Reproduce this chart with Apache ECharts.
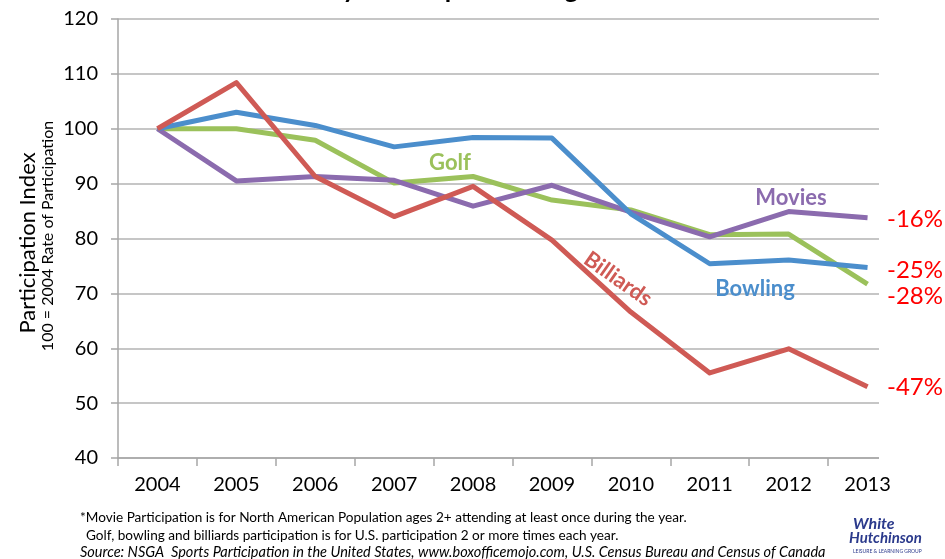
<!DOCTYPE html>
<html><head><meta charset="utf-8">
<script src="https://cdn.jsdelivr.net/npm/echarts@6/dist/echarts.min.js"></script>
<style>html,body{margin:0;padding:0;background:#fff}#c{width:945px;height:559px}</style>
</head><body><div id="c"></div>
<script>
const years = ['2004','2005','2006','2007','2008','2009','2010','2011','2012','2013'];
const bowling = [100, 103.0, 100.6, 96.7, 98.4, 98.3, 84.5, 75.4, 76.1, 74.7];
const golf = [100, 100, 97.9, 90.1, 91.3, 87.0, 85.2, 80.7, 80.8, 71.7];
const movies = [100, 90.5, 91.3, 90.6, 85.9, 89.7, 84.8, 80.3, 84.9, 83.8];
const billiards = [100, 108.4, 91.3, 84.0, 89.5, 79.7, 66.6, 55.5, 59.9, 53.0];
const changeLabels = ['-16%', '-25%', '-28%', '-47%'];
const yTicks = [40, 120, 10];

const FONT = 'Lato, "Open Sans", sans-serif';
const chart = echarts.init(document.getElementById('c'), null, {renderer: 'canvas'});

function line(name, data, color) {
  return {name, type: 'line', data, symbol: 'none', smooth: false,
    lineStyle: {color, width: 5, join: 'round'}, itemStyle: {color}, z: 3};
}

chart.setOption({
  animation: false,
  backgroundColor: '#fff',
  grid: {left: 118, right: 38, top: 19, bottom: 101},
  xAxis: {
    type: 'category', data: years, boundaryGap: true,
    axisLine: {lineStyle: {color: '#a6a6a6', width: 1.5}},
    axisTick: {show: true, length: 8, lineStyle: {color: '#a6a6a6', width: 1.5}},
    axisLabel: {color: '#000', fontSize: 20, fontFamily: FONT, margin: 17}
  },
  yAxis: {
    type: 'value', min: yTicks[0], max: yTicks[1], interval: yTicks[2],
    axisLine: {show: true, lineStyle: {color: '#a6a6a6', width: 1.5}},
    axisTick: {show: true, inside: false, length: 7, lineStyle: {color: '#a6a6a6', width: 1.5}},
    splitLine: {lineStyle: {color: '#b3b3b3', width: 1.5}},
    axisLabel: {color: '#000', fontSize: 20, fontFamily: FONT, margin: 20}
  },
  series: [
    line('Golf', golf, '#9bc15b'),
    line('Movies', movies, '#8b6bae'),
    line('Bowling', bowling, '#4b8ecc'),
    line('Billiards', billiards, '#cf5a55')
  ],
  graphic: [
    {type: 'rect', shape: {x: 879, y: 10, width: 66, height: 460}, style: {fill: '#fff'}, z: 10},
    {type: 'text', x: 484, y: -23, z: 20, style: {text: 'by U.S. Population Ages 7+', font: 'bold 26px ' + FONT, fill: '#000', textAlign: 'center', textVerticalAlign: 'top'}},
    {type: 'text', x: 28, y: 243, rotation: Math.PI/2, z: 20, style: {text: 'Participation Index', font: '22px ' + FONT, fill: '#000', textAlign: 'center', textVerticalAlign: 'middle'}},
    {type: 'text', x: 48, y: 236, rotation: Math.PI/2, z: 20, style: {text: '100 = 2004 Rate of Participation', font: '16px ' + FONT, fill: '#000', textAlign: 'center', textVerticalAlign: 'middle'}},
    {type: 'text', x: 450, y: 163, z: 20, style: {text: 'Golf', font: 'bold 22px ' + FONT, fill: '#9bc15b', textAlign: 'center', textVerticalAlign: 'middle'}},
    {type: 'text', x: 791, y: 198, z: 20, style: {text: 'Movies', font: 'bold 22px ' + FONT, fill: '#8b6bae', textAlign: 'center', textVerticalAlign: 'middle'}},
    {type: 'text', x: 755, y: 289, z: 20, style: {text: 'Bowling', font: 'bold 22px ' + FONT, fill: '#4b8ecc', textAlign: 'center', textVerticalAlign: 'middle'}},
    {type: 'text', x: 618, y: 279, rotation: -35*Math.PI/180, z: 20, style: {text: 'Billiards', font: 'bold 22px ' + FONT, fill: '#cf5a55', textAlign: 'center', textVerticalAlign: 'middle'}},
    {type: 'text', x: 887, y: 219, z: 20, style: {text: changeLabels[0], font: '24px ' + FONT, fill: '#ff0000', textVerticalAlign: 'middle'}},
    {type: 'text', x: 887, y: 270, z: 20, style: {text: changeLabels[1], font: '24px ' + FONT, fill: '#ff0000', textVerticalAlign: 'middle'}},
    {type: 'text', x: 887, y: 296, z: 20, style: {text: changeLabels[2], font: '24px ' + FONT, fill: '#ff0000', textVerticalAlign: 'middle'}},
    {type: 'text', x: 887, y: 387, z: 20, style: {text: changeLabels[3], font: '24px ' + FONT, fill: '#ff0000', textVerticalAlign: 'middle'}},
    {type: 'text', x: 80, y: 518, z: 20, style: {text: '*Movie Participation is for North American Population ages 2+ attending at least once during the year.', font: '13.6px ' + FONT, fill: '#000', textVerticalAlign: 'middle'}},
    {type: 'text', x: 86, y: 536, z: 20, style: {text: 'Golf, bowling and billiards participation is for U.S. participation 2 or more times each year.', font: '13.6px ' + FONT, fill: '#000', textVerticalAlign: 'middle'}},
    {type: 'text', x: 80, y: 552, z: 20, style: {text: 'Source: NSGA  Sports Participation in the United States, www.boxofficemojo.com, U.S. Census Bureau and Census of Canada', font: 'italic 14.5px ' + FONT, fill: '#000', textVerticalAlign: 'middle'}},
    {type: 'text', x: 853, y: 524, z: 20, style: {text: 'White', font: 'italic bold 16px ' + FONT, fill: '#2b3a8c', textVerticalAlign: 'middle'}},
    {type: 'text', x: 849, y: 538, z: 20, style: {text: 'Hutchinson', font: 'italic bold 15px ' + FONT, fill: '#2b3a8c', textVerticalAlign: 'middle'}},
    {type: 'text', x: 853, y: 551, z: 20, style: {text: 'LEISURE & LEARNING GROUP', font: '5px ' + FONT, fill: '#2b3a8c', textVerticalAlign: 'middle'}}
  ]
});
</script></body></html>
